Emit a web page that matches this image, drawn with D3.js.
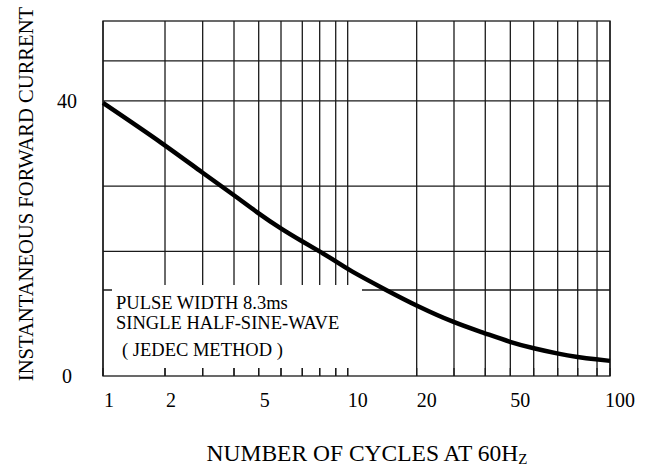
<!DOCTYPE html>
<html lang="en">
<head>
  <meta charset="UTF-8">
  <title>Surge Current vs Number of Cycles</title>
  <script src="https://d3js.org/d3.v7.min.js"></script>
  <style>
    body {
      margin: 0;
      background: #fff;
      font-family: "Liberation Serif", "Times New Roman", serif;
    }
    svg text { fill: #000; }
  </style>
</head>
<body>
  <svg width="657" height="466"></svg>

  <script>
    // grid lines of the printed log axis (cycles at 60Hz)
    const gridCycles = [1, 2, 3, 4, 5, 6, 7, 8, 9, 10, 20, 30, 40, 50, 60, 70, 80, 90, 100];
    // curve
    const cycles = [1, 2, 3, 4, 5, 6, 7, 8, 9, 10, 15, 20, 30, 40, 50, 60, 70, 80, 90, 100];
    const current = [39.7, 33.6, 29.5, 26.3, 23.6, 21.4, 19.55, 18.1, 16.7, 15.5,
                     12.35, 10.2, 7.75, 6.2, 4.9, 4.0, 3.25, 2.75, 2.4, 2.2];
    const xTickLabels = [1, 2, 5, 10, 20, 50, 100];
    const yTickLabels = [0, 40];
    // horizontal grid lines as printed
    const yGridValues = [45.8, 40, 27.6, 18.1, 12.5];
    const yMax = 51.6;

    const margin = { top: 21, right: 47, bottom: 90, left: 103 },
          width = 657 - margin.left - margin.right,
          height = 466 - margin.top - margin.bottom;

    // the printed decades are not evenly spaced, so the log scale is calibrated per grid line
    const gridSpacing = [0, 0.1223, 0.1966, 0.2584, 0.3071, 0.3511, 0.3931, 0.4274, 0.4590, 0.4826,
                         0.6187, 0.6923, 0.7540, 0.8034, 0.8495, 0.8968, 0.9363, 0.9744, 1];

    const svg = d3.select("svg")
      .append("g")
      .attr("transform", `translate(${margin.left},${margin.top})`);

    const x = d3.scaleLog()
      .domain(gridCycles)
      .range(gridSpacing.map(f => f * width));

    const y = d3.scaleLinear()
      .domain([0, yMax])
      .range([height, 0]);

    const gridColor = "#1a1a1a";

    // vertical grid
    svg.append("g")
      .selectAll("line")
      .data(gridCycles)
      .enter()
      .append("line")
      .attr("x1", d => x(d))
      .attr("x2", d => x(d))
      .attr("y1", 0)
      .attr("y2", height)
      .attr("stroke", gridColor)
      .attr("stroke-width", 1.3);

    // horizontal grid
    svg.append("g")
      .selectAll("line")
      .data(yGridValues)
      .enter()
      .append("line")
      .attr("x1", 0)
      .attr("x2", width)
      .attr("y1", d => y(d))
      .attr("y2", d => y(d))
      .attr("stroke", gridColor)
      .attr("stroke-width", 1.3);

    // note box hides the grid behind the text
    const note = svg.append("g").attr("transform", "translate(9,264)");
    note.append("rect")
      .attr("width", 250)
      .attr("height", 83)
      .attr("fill", "#fff");

    const noteLines = ["PULSE WIDTH 8.3ms", "SINGLE HALF-SINE-WAVE", "( JEDEC METHOD )"];
    note.selectAll("text")
      .data(noteLines)
      .enter()
      .append("text")
      .attr("x", (d, i) => i === 2 ? 10 : 4)
      .attr("y", (d, i) => [24, 44, 71][i])
      .attr("font-size", "18.5px")
      .text(d => d);

    // frame
    svg.append("rect")
      .attr("width", width)
      .attr("height", height)
      .attr("fill", "none")
      .attr("stroke", gridColor)
      .attr("stroke-width", 1.3);

    // bottom ticks showing through the note box
    svg.append("g")
      .selectAll("line")
      .data(gridCycles)
      .enter()
      .append("line")
      .attr("x1", d => x(d))
      .attr("x2", d => x(d))
      .attr("y1", height - 8)
      .attr("y2", height)
      .attr("stroke", gridColor)
      .attr("stroke-width", 1.3);

    // curve
    const line = d3.line()
      .x((d, i) => x(cycles[i]))
      .y(d => y(d))
      .curve(d3.curveBasis);

    svg.append("path")
      .datum(current)
      .attr("d", line)
      .attr("fill", "none")
      .attr("stroke", "#000")
      .attr("stroke-width", 4.5)
      .attr("stroke-linecap", "butt");

    // tick labels
    svg.append("g")
      .selectAll("text")
      .data(xTickLabels)
      .enter()
      .append("text")
      .attr("x", d => x(d) + (d < 10 ? 6 : 10))
      .attr("y", height + 31)
      .attr("text-anchor", "middle")
      .attr("font-size", "20px")
      .text(d => d);

    svg.append("g")
      .selectAll("text")
      .data(yTickLabels)
      .enter()
      .append("text")
      .attr("x", -36)
      .attr("y", d => y(d) + 7)
      .attr("text-anchor", "middle")
      .attr("font-size", "20px")
      .text(d => d);

    // axis titles
    const xTitle = svg.append("text")
      .attr("x", 264)
      .attr("y", height + 85)
      .attr("text-anchor", "middle")
      .attr("font-size", "23.5px")
      .text("NUMBER OF CYCLES AT 60H");
    xTitle.append("tspan")
      .attr("font-size", "15px")
      .attr("dy", 3)
      .text("Z");

    svg.append("text")
      .attr("transform", `translate(${-70},${173}) rotate(-90)`)
      .attr("text-anchor", "middle")
      .attr("font-size", "20.6px")
      .text("INSTANTANEOUS FORWARD CURRENT");
  </script>
</body>
</html>
